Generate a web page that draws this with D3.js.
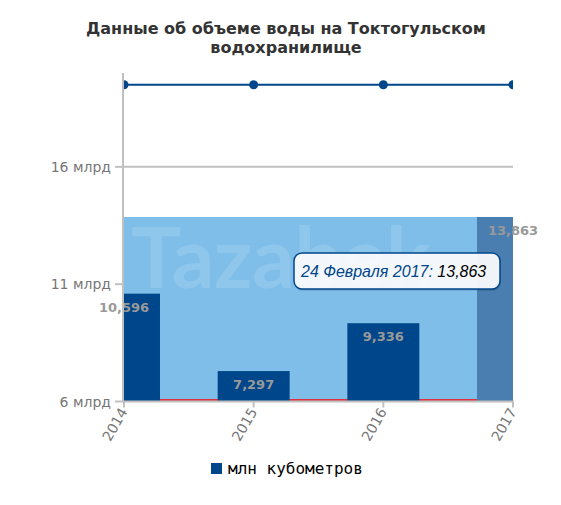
<!DOCTYPE html>
<html>
<head>
<meta charset="utf-8">
<script src="https://cdn.jsdelivr.net/npm/d3@7"></script>
<style>
  body { margin: 0; background: #fff; }
  svg { display: block; }
</style>
</head>
<body>
<script>
// data (values in млрд м3)
var years = ["2014", "2015", "2016", "2017"];
var volumes = [10.596, 7.297, 9.336, 13.863];
var capacity = [19.5, 19.5, 19.5, 19.5];
var deadLevel = [6, 6, 6, 6];
var yTicks = [6, 11, 16];
var tipDate = "24 Февраля 2017";
var legendName = "млн кубометров";
var fmt = function(v) { return d3.format(".3f")(v).replace(".", ","); };

var W = 561, H = 505;
var plot = { left: 124, right: 513, top: 73, bottom: 401.5 };

var svg = d3.select("body").append("svg")
  .attr("width", W).attr("height", H);

svg.append("defs").append("clipPath").attr("id", "pc")
  .append("rect")
  .attr("x", plot.left).attr("y", plot.top)
  .attr("width", plot.right - plot.left).attr("height", plot.bottom - plot.top);

var x = d3.scalePoint().domain(years).range([plot.left, plot.right]);
var y = d3.scaleLinear().domain([6, 20]).range([plot.bottom, plot.top]);
var colW = x.step() * 0.555;

// title
var title = svg.append("text")
  .attr("text-anchor", "middle")
  .style("font-family", "DejaVu Sans")
  .style("font-size", "16px")
  .style("font-weight", "bold")
  .attr("fill", "#333");
title.append("tspan").attr("x", 286).attr("y", 34).text("Данные об объеме воды на Токтогульском");
title.append("tspan").attr("x", 286).attr("y", 53).text("водохранилище");

// grid
svg.append("g").selectAll("line").data(yTicks.slice(1)).join("line")
  .attr("x1", plot.left).attr("x2", plot.right)
  .attr("y1", function(d) { return y(d); }).attr("y2", function(d) { return y(d); })
  .attr("stroke", "#c0c0c0").attr("stroke-width", 2);

var body = svg.append("g").attr("clip-path", "url(#pc)");

// hover band up to the last value
body.append("path")
  .datum(years)
  .attr("d", d3.area()
    .x(function(d) { return x(d); })
    .y0(plot.bottom)
    .y1(y(volumes[volumes.length - 1])))
  .attr("fill", "#7fbee9");

// red line at the bottom
body.append("path")
  .datum(deadLevel)
  .attr("d", d3.line()
    .x(function(d, i) { return x(years[i]); })
    .y(function(d) { return y(d) - 1.5; }))
  .attr("fill", "none").attr("stroke", "#ff0000").attr("stroke-width", 1.5);

// columns
body.selectAll("rect.col").data(volumes).join("rect")
  .attr("class", "col")
  .attr("x", function(d, i) { return x(years[i]) - colW / 2; })
  .attr("y", function(d) { return y(d); })
  .attr("width", colW)
  .attr("height", function(d) { return plot.bottom - y(d); })
  .attr("fill", function(d, i) { return i == volumes.length - 1 ? "#4a7eb0" : "#00468a"; });

// capacity line
body.append("path")
  .datum(capacity)
  .attr("d", d3.line()
    .x(function(d, i) { return x(years[i]); })
    .y(function(d) { return y(d); }))
  .attr("fill", "none").attr("stroke", "#00468a").attr("stroke-width", 2);

body.selectAll("circle").data(capacity).join("circle")
  .attr("cx", function(d, i) { return x(years[i]); })
  .attr("cy", function(d) { return y(d); })
  .attr("r", 4.5)
  .attr("fill", "#00468a");

// watermark
svg.append("text")
  .attr("x", 131).attr("y", 288)
  .attr("textLength", 300)
  .style("font-family", "Lato")
  .style("font-weight", "bold")
  .style("font-size", "84px")
  .attr("fill", "#fff").attr("fill-opacity", 0.13)
  .text("Tazabek");

// data labels
svg.append("g").selectAll("text").data(volumes).join("text")
  .attr("x", function(d, i) { return x(years[i]); })
  .attr("y", function(d) { return y(d) + 18; })
  .attr("text-anchor", "middle")
  .style("font-family", "DejaVu Sans")
  .style("font-size", "13px")
  .style("font-weight", "bold")
  .attr("fill", "#999")
  .text(function(d) { return fmt(d); });

// y axis
svg.append("line")
  .attr("x1", plot.left - 1).attr("x2", plot.left - 1)
  .attr("y1", plot.top).attr("y2", plot.bottom)
  .attr("stroke", "#c0c0c0").attr("stroke-width", 2);

var yt = svg.append("g").selectAll("g").data(yTicks).join("g")
  .attr("transform", function(d) { return "translate(0," + y(d) + ")"; });
yt.append("line").attr("x1", plot.left - 9).attr("x2", plot.left - 1)
  .attr("stroke", "#c0c0c0").attr("stroke-width", 2);
yt.append("text")
  .attr("x", 111).attr("y", 5)
  .attr("text-anchor", "end")
  .style("font-family", "DejaVu Sans")
  .style("font-size", "14px")
  .attr("fill", "#777")
  .text(function(d) { return d + " млрд"; });

// x axis
svg.append("line")
  .attr("x1", plot.left - 1).attr("x2", plot.right + 1)
  .attr("y1", plot.bottom).attr("y2", plot.bottom)
  .attr("stroke", "#c0c0c0").attr("stroke-width", 2);

var xt = svg.append("g").selectAll("g").data(years).join("g")
  .attr("transform", function(d) { return "translate(" + x(d) + "," + plot.bottom + ")"; });
xt.append("line").attr("y1", 0).attr("y2", 6)
  .attr("stroke", "#c0c0c0").attr("stroke-width", 2);
xt.append("text")
  .attr("transform", "translate(4,10) rotate(-60)")
  .attr("text-anchor", "end")
  .style("font-family", "DejaVu Sans")
  .style("font-size", "14px")
  .attr("fill", "#777")
  .text(function(d) { return d; });

// tooltip
var tip = svg.append("g").attr("transform", "translate(294,253)");
tip.append("rect")
  .attr("x", 1).attr("y", 1).attr("width", 206).attr("height", 37).attr("rx", 8)
  .attr("fill", "#000").attr("fill-opacity", 0.1);
tip.append("rect")
  .attr("width", 206).attr("height", 36).attr("rx", 8)
  .attr("fill", "#fafbfe").attr("fill-opacity", 0.95)
  .attr("stroke", "#00468a").attr("stroke-width", 1.5);
var tt = tip.append("text")
  .attr("x", 7).attr("y", 24)
  .style("font-family", "Liberation Sans")
  .style("font-size", "16px")
  .style("font-style", "italic");
tt.append("tspan").attr("fill", "#00468a").text(tipDate + ": ");
tt.append("tspan").attr("fill", "#000").text(fmt(volumes[volumes.length - 1]));

// legend
var lg = svg.append("g").attr("transform", "translate(211,463)");
lg.append("rect").attr("width", 11).attr("height", 11).attr("fill", "#00468a");
lg.append("text")
  .attr("x", 17).attr("y", 11)
  .style("font-family", "DejaVu Sans Mono")
  .style("font-size", "16px")
  .attr("fill", "#000")
  .text(legendName);
</script>
</body>
</html>
